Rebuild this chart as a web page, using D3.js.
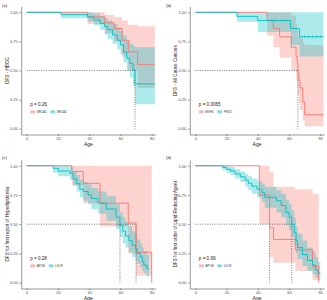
<!DOCTYPE html>
<html>
<head>
<meta charset="utf-8">
<script src="https://cdn.jsdelivr.net/npm/d3@7"></script>
<style>
  html, body { margin: 0; padding: 0; background: #fff; }
  svg { display: block; font-family: "Liberation Sans", Arial, sans-serif; }
</style>
</head>
<body>
<div id="chart"></div>
<script>
const RED = '#F8766D'
const TEAL = '#00BFC4'

const AGE_TICKS = [0, 20, 40, 60, 80]
const SURV_TICKS = [0, 0.25, 0.5, 0.75, 1]

// (a) HBOC
const A_BRCA1_T  = [0, 39, 50, 56, 61, 65, 71, 82]
const A_BRCA1_S  = [1, 0.96, 0.91, 0.86, 0.76, 0.66, 0.55, 0.55]
const A_BRCA1_LO = [1, 0.90, 0.82, 0.75, 0.62, 0.50, 0.35, 0.35]
const A_BRCA1_HI = [1, 1, 0.98, 0.96, 0.93, 0.89, 0.88, 0.88]

const A_BRCA2_T  = [0, 22, 39, 43, 47, 50, 52, 55, 58, 60, 62, 64, 66, 68, 69.3, 82]
const A_BRCA2_S  = [1, 0.98, 0.96, 0.935, 0.905, 0.876, 0.85, 0.805, 0.76, 0.72, 0.66, 0.605, 0.56, 0.51, 0.385, 0.385]
const A_BRCA2_LO = [1, 0.95, 0.92, 0.89, 0.85, 0.81, 0.77, 0.73, 0.68, 0.64, 0.57, 0.50, 0.44, 0.37, 0.21, 0.21]
const A_BRCA2_HI = [1, 1, 1, 0.99, 0.97, 0.95, 0.93, 0.90, 0.87, 0.84, 0.80, 0.76, 0.73, 0.71, 0.70, 0.70]

// (b) All cause cancers
const B_MSH6_T  = [0, 46, 50, 54, 61.5, 64.5, 65.2, 65.7, 66.3, 67, 68.8, 70, 82]
const B_MSH6_S  = [1, 0.93, 0.86, 0.79, 0.70, 0.62, 0.56, 0.49, 0.42, 0.35, 0.23, 0.12, 0.12]
const B_MSH6_LO = [1, 0.80, 0.70, 0.61, 0.50, 0.42, 0.36, 0.29, 0.22, 0.16, 0.07, 0.02, 0.02]
const B_MSH6_HI = [1, 1, 1, 1, 0.97, 0.90, 0.85, 0.80, 0.79, 0.78, 0.74, 0.72, 0.72]

const B_PMS2_T  = [0, 26.7, 40, 61, 66.8, 82]
const B_PMS2_S  = [1, 0.965, 0.93, 0.86, 0.79, 0.79]
const B_PMS2_LO = [1, 0.92, 0.83, 0.72, 0.62, 0.62]
const B_PMS2_HI = [1, 1, 1, 1, 1, 1]
const B_PMS2_CENSOR = [49, 52, 55, 58, 70, 72.5, 75, 77.5, 80]

// (c) Hyperlipidemia
const C_APOB_T  = [0, 28.8, 36.2, 46.9, 65, 70, 80]
const C_APOB_S  = [1, 0.95, 0.85, 0.68, 0.51, 0.26, 0]
const C_APOB_LO = [1, 0.83, 0.68, 0.48, 0.25, 0.06, 0]
const C_APOB_HI = [1, 1, 1, 1, 1, 1, 1]

const C_LDLR_T  = [0, 17, 20.2, 27.7, 29.8, 32, 34, 36.2, 39.3, 41.4, 45.6, 51, 57.2, 59.7, 61.5, 63.3, 65.4, 67.5, 69.7, 70.7, 72.8, 74, 75, 77, 78.2]
const C_LDLR_S  = [1, 0.978, 0.955, 0.935, 0.887, 0.846, 0.80, 0.78, 0.75, 0.72, 0.68, 0.63, 0.56, 0.49, 0.44, 0.40, 0.36, 0.32, 0.29, 0.25, 0.22, 0.18, 0.15, 0.12, 0.12]
const C_LDLR_LO = [1, 0.94, 0.91, 0.88, 0.83, 0.78, 0.73, 0.70, 0.67, 0.63, 0.59, 0.53, 0.46, 0.39, 0.34, 0.30, 0.26, 0.22, 0.19, 0.16, 0.13, 0.10, 0.08, 0.05, 0.05]
const C_LDLR_HI = [1, 1, 1, 0.99, 0.95, 0.92, 0.88, 0.86, 0.84, 0.81, 0.78, 0.74, 0.67, 0.60, 0.56, 0.52, 0.48, 0.44, 0.41, 0.37, 0.34, 0.30, 0.27, 0.24, 0.24]

// (d) Lipid reducing agent
const D_APOB_T  = [0, 41, 47.5, 50, 64, 75, 79]
const D_APOB_S  = [1, 0.75, 0.47, 0.37, 0.28, 0.14, 0]
const D_APOB_LO = [1, 0.50, 0.22, 0.17, 0.10, 0.02, 0]
const D_APOB_HI = [1, 1, 0.95, 0.82, 0.80, 0.76, 0.76]

const D_LDLR_T  = [0, 17.5, 20, 22.5, 25.5, 28.8, 32, 34, 36.3, 39.5, 42.7, 44.5, 52, 55, 58, 60, 61.7, 63.4, 64.5, 65.4, 68.6, 71.8, 75, 77, 78.5, 80]
const D_LDLR_S  = [1, 0.985, 0.97, 0.955, 0.93, 0.905, 0.875, 0.85, 0.825, 0.80, 0.77, 0.73, 0.70, 0.66, 0.60, 0.56, 0.50, 0.43, 0.36, 0.30, 0.24, 0.19, 0.15, 0.11, 0.08, 0.08]
const D_LDLR_LO = [1, 0.96, 0.94, 0.92, 0.89, 0.86, 0.82, 0.79, 0.76, 0.73, 0.69, 0.64, 0.60, 0.56, 0.49, 0.45, 0.39, 0.32, 0.25, 0.20, 0.14, 0.10, 0.07, 0.04, 0.02, 0.02]
const D_LDLR_HI = [1, 1, 1, 0.99, 0.97, 0.95, 0.93, 0.91, 0.89, 0.87, 0.85, 0.82, 0.79, 0.76, 0.71, 0.67, 0.62, 0.55, 0.48, 0.42, 0.36, 0.30, 0.26, 0.22, 0.18, 0.18]

const PANEL_TAGS = ['(a)', '(b)', '(c)', '(d)']
const Y_TITLES = ['DFS - HBOC', 'DFS - All Cause Cancers', 'DFS for first report of Hyperlipidemia', 'DFS for first order of Lipid Reducing Agent']
const P_VALUES = ['p = 0.26', 'p = 0.0065', 'p = 0.28', 'p = 0.99']
const GROUP_NAMES = [['BRCA1', 'BRCA2'], ['MSH6', 'PMS2'], ['APOB', 'LDLR'], ['APOB', 'LDLR']]

const zip = (t, s, lo, hi) => t.map((v, i) => ({ t: v, s: s[i], lo: lo[i], hi: hi[i] }))

const panels = [
  { left: 21.2, right: 155.6, top: 6.5, bottom: 134.5, ox: 0, oy: 0,
    groups: [zip(A_BRCA1_T, A_BRCA1_S, A_BRCA1_LO, A_BRCA1_HI), zip(A_BRCA2_T, A_BRCA2_S, A_BRCA2_LO, A_BRCA2_HI)],
    censor: [[], []] },
  { left: 189.8, right: 324.2, top: 6.5, bottom: 134.5, ox: 164, oy: 0,
    groups: [zip(B_MSH6_T, B_MSH6_S, B_MSH6_LO, B_MSH6_HI), zip(B_PMS2_T, B_PMS2_S, B_PMS2_LO, B_PMS2_HI)],
    censor: [[], B_PMS2_CENSOR] },
  { left: 21.2, right: 155.6, top: 159.9, bottom: 288.5, ox: 0, oy: 152,
    groups: [zip(C_APOB_T, C_APOB_S, C_APOB_LO, C_APOB_HI), zip(C_LDLR_T, C_LDLR_S, C_LDLR_LO, C_LDLR_HI)],
    censor: [[], []] },
  { left: 189.8, right: 324.2, top: 159.9, bottom: 288.5, ox: 164, oy: 152,
    groups: [zip(D_APOB_T, D_APOB_S, D_APOB_LO, D_APOB_HI), zip(D_LDLR_T, D_LDLR_S, D_LDLR_LO, D_LDLR_HI)],
    censor: [[], []] },
]

const COLORS = [RED, TEAL]

const svg = d3.select('#chart').append('svg')
  .attr('width', 327)
  .attr('height', 300)

function survAt(g, age) {
  let v = 1
  for (const d of g) if (d.t <= age) v = d.s
  return v
}

panels.forEach((p, pi) => {
  const x = d3.scaleLinear().domain([-3.5, 82.5]).range([p.left, p.right])
  const y = d3.scaleLinear().domain([-0.05, 1.05]).range([p.bottom, p.top])
  const g = svg.append('g')

  // Ribbons
  const area = d3.area().curve(d3.curveStepAfter)
    .x(d => x(d.t)).y0(d => y(d.lo)).y1(d => y(d.hi))
  p.groups.forEach((grp, gi) => {
    g.append('path')
      .datum(grp)
      .attr('fill', COLORS[gi])
      .attr('fill-opacity', 0.32)
      .attr('d', area)
  })

  // Median lines
  const medians = p.groups.map(grp => {
    const hit = grp.find(d => d.s <= 0.5)
    return hit ? hit.t : null
  }).filter(m => m !== null)
  if (medians.length) {
    const maxMed = d3.max(medians)
    g.append('line')
      .attr('x1', x(0)).attr('x2', x(maxMed))
      .attr('y1', y(0.5)).attr('y2', y(0.5))
      .attr('stroke', '#222').attr('stroke-width', 0.6)
      .attr('stroke-dasharray', '1,1.4')
    medians.forEach(m => {
      g.append('line')
        .attr('x1', x(m)).attr('x2', x(m))
        .attr('y1', y(0.5)).attr('y2', y(0))
        .attr('stroke', '#222').attr('stroke-width', 0.6)
        .attr('stroke-dasharray', '1,1.4')
    })
  }

  // Survival step lines
  const line = d3.line().curve(d3.curveStepAfter).x(d => x(d.t)).y(d => y(d.s))
  p.groups.forEach((grp, gi) => {
    g.append('path')
      .datum(grp)
      .attr('fill', 'none')
      .attr('stroke', COLORS[gi])
      .attr('stroke-width', 0.9)
      .attr('d', line)
    p.censor[gi].forEach(c => {
      const sv = survAt(grp, c)
      g.append('line')
        .attr('x1', x(c)).attr('x2', x(c))
        .attr('y1', y(sv) - 1.2).attr('y2', y(sv) + 1.2)
        .attr('stroke', COLORS[gi]).attr('stroke-width', 0.6)
    })
  })

  // Axes
  const yAxis = g.append('g')
    .attr('transform', `translate(${p.left},0)`)
    .call(d3.axisLeft(y).tickValues(SURV_TICKS).tickFormat(d3.format('.2f')).tickSize(2).tickSizeOuter(0).tickPadding(1.5))
  const xAxis = g.append('g')
    .attr('transform', `translate(0,${p.bottom})`)
    .call(d3.axisBottom(x).tickValues(AGE_TICKS).tickSize(1.5).tickSizeOuter(0).tickPadding(1))
  ;[xAxis, yAxis].forEach(a => {
    a.select('.domain').attr('stroke', '#333').attr('stroke-width', 0.5)
    a.selectAll('.tick line').attr('stroke', '#333').attr('stroke-width', 0.5)
    a.selectAll('.tick text').attr('font-size', 4).attr('fill', '#4d4d4d')
      .attr('font-family', '"Liberation Sans", Arial, sans-serif')
  })

  // Titles
  svg.append('text')
    .attr('x', 2 + p.ox).attr('y', 7 + p.oy)
    .attr('font-size', 4.2).attr('fill', '#222')
    .text(PANEL_TAGS[pi])

  svg.append('text')
    .attr('transform', `translate(${p.left - 12.5},${(p.top + p.bottom) / 2}) rotate(-90)`)
    .attr('text-anchor', 'middle')
    .attr('font-size', 4.6).attr('fill', '#222')
    .text(Y_TITLES[pi])

  svg.append('text')
    .attr('x', (p.left + p.right) / 2).attr('y', p.bottom + 11)
    .attr('text-anchor', 'middle')
    .attr('font-size', 5).attr('fill', '#222')
    .text('Age')

  // p-value and legend
  const lx = p.left + 9
  svg.append('text')
    .attr('x', lx).attr('y', y(0) - 22.5)
    .attr('font-size', 4.6).attr('fill', '#222')
    .text(P_VALUES[pi])

  let cx = lx
  GROUP_NAMES[pi].forEach((name, gi) => {
    const ky = y(0) - 18.5
    svg.append('rect')
      .attr('x', cx).attr('y', ky).attr('width', 5).attr('height', 3.4)
      .attr('fill', COLORS[gi]).attr('fill-opacity', 0.35)
    svg.append('line')
      .attr('x1', cx + 0.6).attr('x2', cx + 4.4)
      .attr('y1', ky + 1.7).attr('y2', ky + 1.7)
      .attr('stroke', COLORS[gi]).attr('stroke-width', 0.6)
    const t = svg.append('text')
      .attr('x', cx + 6.5).attr('y', ky + 2.8)
      .attr('font-size', 3).attr('fill', '#444')
      .text(name)
    cx += 6.5 + t.node().getComputedTextLength() + 3.5
  })
})
</script>
</body>
</html>
